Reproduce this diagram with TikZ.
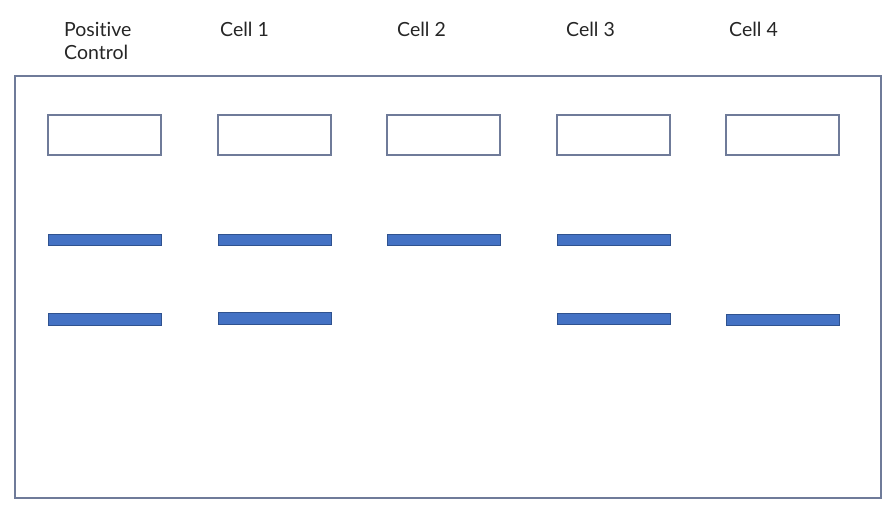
\documentclass[tikz,border=0pt]{standalone}
\usepackage{fontspec}
\setmainfont{Lato}[RawFeature={-liga;-dlig}]
\definecolor{frame}{HTML}{6F7B99}
\definecolor{bandfill}{HTML}{4472C4}
\definecolor{banddraw}{HTML}{2F528F}
\definecolor{txt}{HTML}{262626}
\begin{document}
\begin{tikzpicture}[x=1pt,y=-1pt,
  gel/.style={draw=frame,line width=1.4pt},
  well/.style={draw=frame,line width=1.3pt,fill=white,minimum width=113pt,minimum height=40pt,inner sep=0pt},
  band/.style={draw=banddraw,line width=0.9pt,fill=bandfill,minimum width=113pt,minimum height=11.5pt,inner sep=0pt},
  lbl/.style={anchor=base west,inner sep=0pt,text=txt,font=\fontsize{19.5}{23}\selectfont,align=left}]
\useasboundingbox (0,0) rectangle (889,507);
\node[gel,minimum width=866pt,minimum height=422pt,inner sep=0pt] (gelbox) at (448,287) {};
% labels
\node[lbl] (l0) at (64,59) {Positive\\Control};
\node[lbl] (l1) at (220,36) {Cell 1};
\node[lbl] (l2) at (397,36) {Cell 2};
\node[lbl] (l3) at (566,36) {Cell 3};
\node[lbl] (l4) at (729,36) {Cell 4};
% wells
\foreach \i/\x in {0/104.5,1/274.5,2/443.5,3/613.5,4/782.5}{
  \node[well] (w\i) at (\x,135) {};
}
% bands row 1
\node[band] (a0) at (104.5,240) {};
\node[band] (a1) at (274.5,240) {};
\node[band] (a2) at (443.5,240) {};
\node[band] (a3) at (613.5,240) {};
% bands row 2
\node[band] (b0) at (104.5,319.5) {};
\node[band] (b1) at (274.5,318.5) {};
\node[band] (b3) at (613.5,319) {};
\node[band] (b4) at (782.5,320) {};
\end{tikzpicture}
\end{document}
